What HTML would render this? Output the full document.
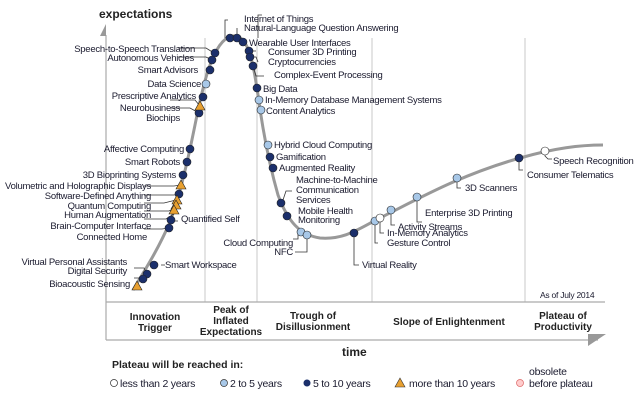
<!DOCTYPE html>
<html><head><meta charset="utf-8"><style>
body{margin:0;background:#fff}
svg{display:block;font-family:"Liberation Sans",Arial,sans-serif}
text{font-size:9.5px;fill:#1a1a2e;letter-spacing:-0.25px}
.b{font-weight:bold;font-size:10px;fill:#222;letter-spacing:0}
</style></head><body>
<svg width="640" height="400" viewBox="0 0 640 400">
<g stroke="#c8c8c8" stroke-width="1">
<line x1="205" y1="38" x2="205" y2="302"/><line x1="257" y1="38" x2="257" y2="302"/>
<line x1="372" y1="38" x2="372" y2="302"/><line x1="525" y1="38" x2="525" y2="302"/>
</g>
<g stroke="#aaa" stroke-width="1.2" fill="none">
<line x1="106" y1="35" x2="106" y2="340"/><line x1="106" y1="302" x2="605" y2="302"/><line x1="106" y1="340" x2="598" y2="340"/>
</g>
<polygon points="100,36 106,24 106,36" fill="#999"/>
<polygon points="588,334 606,334 588,346" fill="#999"/>
<text x="99" y="18" class="b" style="font-size:12px">expectations</text>
<text x="342" y="356" class="b" style="font-size:12px">time</text>
<path d="M133,290 C150,262 160,245 170,222 C180,195 188,160 195,125 C202,90 212,40 232,36 C250,33 254,70 258,95 C262,125 268,160 278,195 C288,222 300,235 320,238 C345,240 360,228 380,218 C420,198 460,175 520,158 C555,148 580,145 603,145" fill="none" stroke="#999" stroke-width="3"/>
<g stroke="#333" stroke-width="0.8" fill="none">
<path d="M178,48h28l8,5M178,57h28l6,3M170,100h25l5,6M170,108h20l9,5M144,186h30l7,-1M144,195h30l5,-1M144,203h20l12,-3M144,211h25l6,-3M144,219h22l8,-5M144,229h18l7,-1M134,268h10l3,6M134,278h5l4,1M174,221h4M161,265h4"/>
<path d="M228,20h-3v18M237,28v10M262,15h-4v23M252,51h4M253,57h3l2,5M253,66l3,10h8"/>
<path d="M282,203l4,-12h6M293,239h5v-7M295,252h12v-17M354,233v32h5M375,221v22h3M380,217v16h4M391,210v15h4M417,197v25h5M457,178v10h4M519,158v12h4M545,151v5l3,3h4"/>
</g>
<g font-size="9.5" text-anchor="end">
<text x="195" y="52">Speech-to-Speech Translation</text>
<text x="194" y="61">Autonomous Vehicles</text>
<text x="198" y="73">Smart Advisors</text>
<text x="201" y="87">Data Science</text>
<text x="196" y="99">Prescriptive Analytics</text>
<text x="180" y="111">Neurobusiness</text>
<text x="180" y="121">Biochips</text>
<text x="184" y="152">Affective  Computing</text>
<text x="180" y="165">Smart Robots</text>
<text x="176" y="178">3D Bioprinting Systems</text>
<text x="151" y="189">Volumetric and Holographic Displays</text>
<text x="151" y="199">Software-Defined Anything</text>
<text x="151" y="209">Quantum Computing</text>
<text x="151" y="218">Human Augmentation</text>
<text x="151" y="229">Brain-Computer Interface</text>
<text x="147" y="240">Connected Home</text>
<text x="127" y="265">Virtual Personal Assistants</text>
<text x="127" y="274">Digital Security</text>
<text x="130" y="287">Bioacoustic Sensing</text>
<text x="293" y="246">Cloud Computing</text>
<text x="293" y="255">NFC</text>
</g>
<g font-size="9.5">
<text x="181" y="222">Quantified Self</text>
<text x="165" y="268">Smart Workspace</text>
<text x="244" y="22">Internet of Things</text>
<text x="244" y="31">Natural-Language Question Answering</text>
<text x="249" y="46">Wearable User Interfaces</text>
<text x="268" y="55">Consumer 3D Printing</text>
<text x="268" y="65">Cryptocurrencies</text>
<text x="274" y="78">Complex-Event Processing</text>
<text x="263" y="92">Big Data</text>
<text x="265" y="103">In-Memory Database Management Systems</text>
<text x="266" y="114">Content Analytics</text>
<text x="274" y="148">Hybrid Cloud Computing</text>
<text x="276" y="160">Gamification</text>
<text x="279" y="171">Augmented Reality</text>
<text x="296" y="183">Machine-to-Machine</text>
<text x="296" y="193">Communication</text>
<text x="296" y="203">Services</text>
<text x="298" y="214">Mobile Health</text>
<text x="298" y="223">Monitoring</text>
<text x="362" y="268">Virtual Reality</text>
<text x="387" y="246">Gesture Control</text>
<text x="387" y="236">In-Memory Analytics</text>
<text x="398" y="230">Activity  Streams</text>
<text x="425" y="216">Enterprise 3D Printing</text>
<text x="465" y="191">3D Scanners</text>
<text x="527" y="178">Consumer Telematics</text>
<text x="553" y="164">Speech Recognition</text>
<text x="540" y="298" style="font-size:8.5px">As of July 2014</text>
</g>
<g stroke="#222" stroke-width="0.6">
<g fill="#1b2f6b">
<circle cx="215" cy="53" r="4"/><circle cx="212" cy="60" r="4"/><circle cx="210" cy="70" r="4"/><circle cx="203" cy="97" r="4"/><circle cx="199" cy="113" r="4"/><circle cx="190" cy="149" r="4"/><circle cx="187" cy="162" r="4"/><circle cx="183" cy="175" r="4"/><circle cx="179" cy="194" r="4"/><circle cx="171" cy="220" r="4"/><circle cx="169" cy="228" r="4"/><circle cx="154" cy="265" r="4"/><circle cx="147" cy="274" r="4"/><circle cx="143" cy="279" r="4"/>
<circle cx="230" cy="38" r="4"/><circle cx="237" cy="38" r="4"/><circle cx="243" cy="42" r="4"/><circle cx="249" cy="51" r="4"/><circle cx="250" cy="57" r="4"/><circle cx="253" cy="66" r="4"/><circle cx="257" cy="88" r="4"/><circle cx="270" cy="157" r="4"/><circle cx="273" cy="168" r="4"/><circle cx="281" cy="203" r="4"/><circle cx="287" cy="216" r="4"/><circle cx="354" cy="233" r="4"/><circle cx="519" cy="158" r="4"/>
</g>
<g fill="#a8c8e8">
<circle cx="206" cy="84" r="4"/><circle cx="259" cy="100" r="4"/><circle cx="261" cy="110" r="4"/><circle cx="268" cy="145" r="4"/><circle cx="301" cy="232" r="4"/><circle cx="307" cy="235" r="4"/><circle cx="375" cy="221" r="4"/><circle cx="391" cy="210" r="4"/><circle cx="417" cy="197" r="4"/><circle cx="457" cy="178" r="4"/>
</g>
<g fill="#fff"><circle cx="380" cy="218" r="4"/><circle cx="545" cy="151" r="4"/></g>
<g fill="#e8a030">
<polygon points="200,101 205,110 195,110"/><polygon points="181,180 186,189 176,189"/><polygon points="177,195 182,204 172,204"/><polygon points="176,200 181,209 171,209"/><polygon points="174,205 179,214 169,214"/><polygon points="137,281 142,290 132,290"/>
</g>
</g>
<g class="b" text-anchor="middle" style="font-size:10px">
<text x="155" y="320" class="b">Innovation</text><text x="155" y="331" class="b">Trigger</text>
<text x="231" y="313" class="b">Peak of</text><text x="231" y="324" class="b">Inflated</text><text x="231" y="335" class="b">Expectations</text>
<text x="313" y="319" class="b">Trough of</text><text x="313" y="330" class="b">Disillusionment</text>
<text x="449" y="325" class="b">Slope of Enlightenment</text>
<text x="563" y="319" class="b">Plateau of</text><text x="563" y="330" class="b">Productivity</text>
</g>
<text x="112" y="368" class="b" style="font-size:10.5px">Plateau will be reached in:</text>
<g>
<circle cx="114" cy="383" r="3.5" fill="#fff" stroke="#333" stroke-width="0.7"/><text x="120" y="387" style="font-size:10.5px">less than 2 years</text>
<circle cx="224" cy="383" r="3.5" fill="#a8c8e8" stroke="#333" stroke-width="0.7"/><text x="230" y="387" style="font-size:10.5px">2 to 5 years</text>
<circle cx="307" cy="383" r="3.5" fill="#1b2f6b"/><text x="313" y="387" style="font-size:10.5px">5 to 10 years</text>
<polygon points="400,378 405,387 395,387" fill="#e8a030" stroke="#333" stroke-width="0.6"/><text x="409" y="387" style="font-size:10.5px">more than 10 years</text>
<circle cx="520" cy="383" r="3.5" fill="#fcc" stroke="#d66" stroke-width="0.7"/><text x="529" y="375" style="font-size:10.5px">obsolete</text><text x="529" y="387" style="font-size:10.5px">before plateau</text>
</g>
</svg>
</body></html>
